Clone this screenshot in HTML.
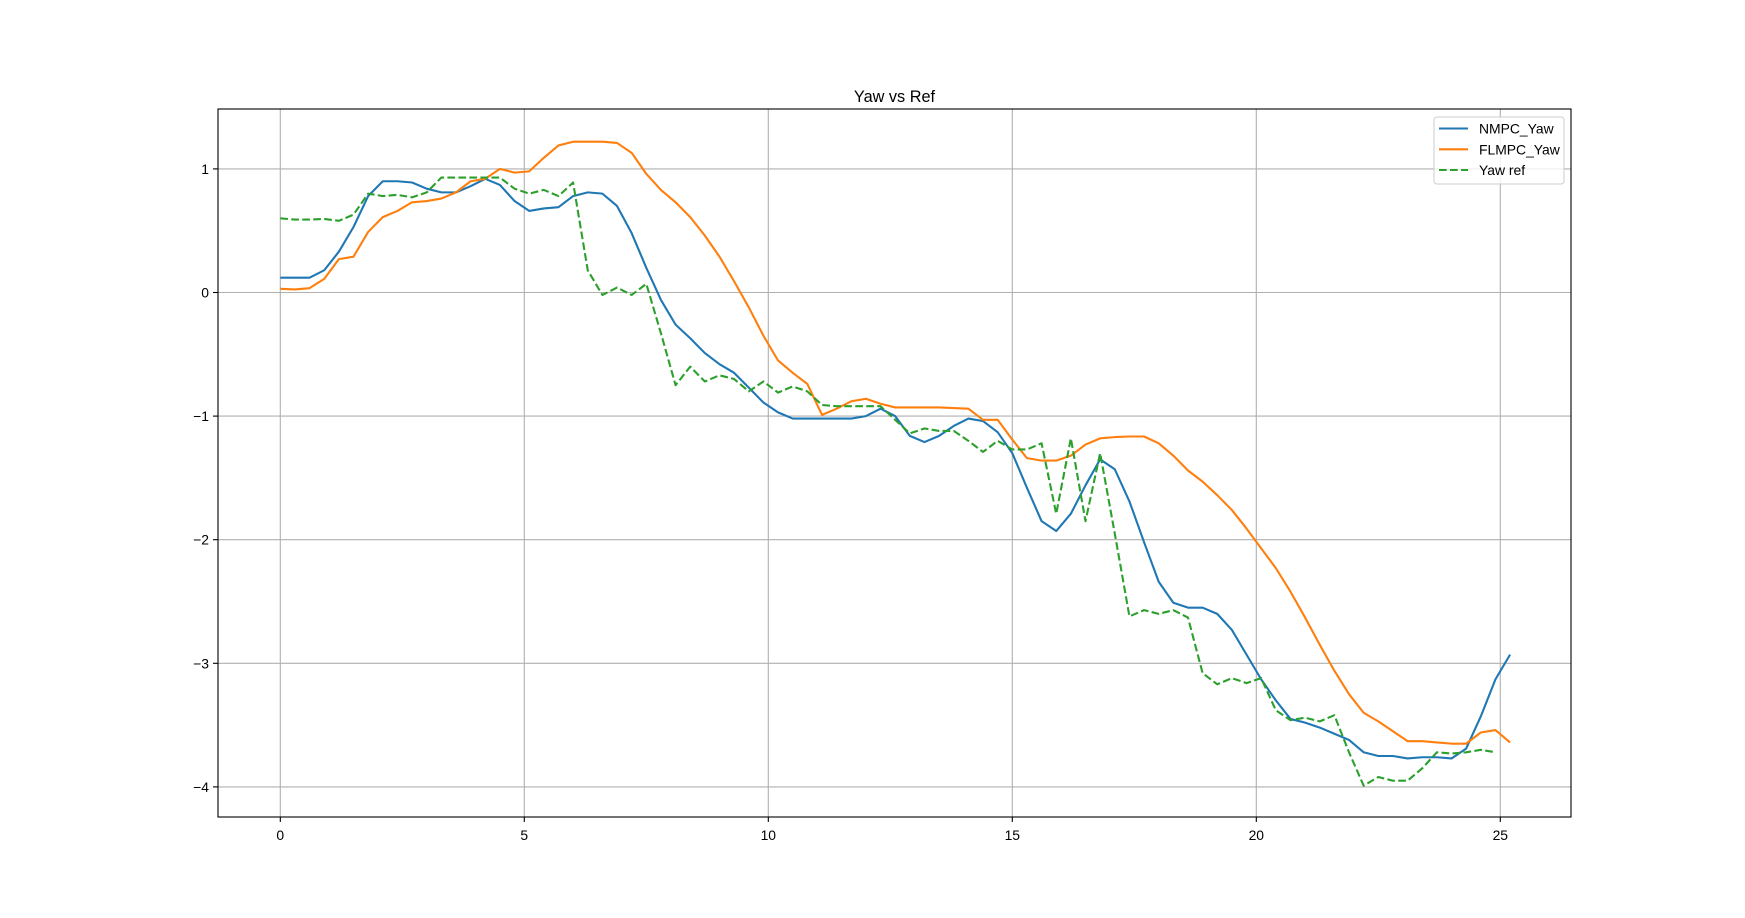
<!DOCTYPE html>
<html><head><meta charset="utf-8"><style>
html,body{margin:0;padding:0;background:#fff;}
svg{display:block;font-family:"Liberation Sans","DejaVu Sans",sans-serif;}
</style></head><body>
<svg id="chart" width="1745" height="918" viewBox="0 0 1745 918" xmlns="http://www.w3.org/2000/svg">
<rect x="0" y="0" width="1745" height="918" fill="#fff"/>
<text x="894.5" y="102" font-size="16.3" text-anchor="middle">Yaw vs Ref</text>
<g id="grid"></g>
<g id="ticks"></g>
<g id="series"></g>
<rect x="218" y="109" width="1353" height="708" fill="none" stroke="#000" stroke-width="1.1"/>
<g id="legend">
<rect x="1434" y="117" width="130" height="67" rx="3" fill="#fff" fill-opacity="0.8" stroke="#ccc" stroke-width="1"/>
<line x1="1439" y1="128.5" x2="1468" y2="128.5" stroke="#1f77b4" stroke-width="2.1"/>
<text x="1479" y="133.5" font-size="13.9">NMPC_Yaw</text>
<line x1="1439" y1="149.3" x2="1468" y2="149.3" stroke="#ff7f0e" stroke-width="2.1"/>
<text x="1479" y="154.3" font-size="13.9">FLMPC_Yaw</text>
<line x1="1439" y1="170" x2="1468" y2="170" stroke="#2ca02c" stroke-width="2.1" stroke-dasharray="7.7,3.3"/>
<text x="1479" y="175" font-size="13.9">Yaw ref</text>
</g>
</svg>
<script>
const xTicks = [0, 5, 10, 15, 20, 25];
const yTicks = [1, 0, -1, -2, -3, -4];
const yTickLabels = ["1", "0", "\u22121", "\u22122", "\u22123", "\u22124"];
const dt = 0.3;
const nmpcYaw = [0.12,0.12,0.12,0.18,0.33,0.53,0.78,0.9,0.9,0.89,0.84,0.81,0.81,0.86,0.92,0.87,0.74,0.66,0.68,0.69,0.78,0.81,0.80,0.70,0.48,0.2,-0.06,-0.26,-0.37,-0.49,-0.58,-0.65,-0.77,-0.89,-0.97,-1.02,-1.02,-1.02,-1.02,-1.02,-1.0,-0.94,-1.0,-1.16,-1.21,-1.16,-1.08,-1.02,-1.04,-1.13,-1.3,-1.58,-1.85,-1.93,-1.79,-1.56,-1.35,-1.43,-1.69,-2.02,-2.34,-2.51,-2.55,-2.55,-2.6,-2.73,-2.93,-3.13,-3.3,-3.45,-3.48,-3.52,-3.57,-3.62,-3.72,-3.75,-3.75,-3.77,-3.76,-3.76,-3.77,-3.69,-3.43,-3.13,-2.93];
const flmpcYaw = [0.03,0.025,0.035,0.11,0.27,0.29,0.49,0.61,0.66,0.73,0.74,0.76,0.81,0.9,0.92,1.0,0.97,0.98,1.09,1.19,1.22,1.22,1.22,1.21,1.13,0.96,0.83,0.73,0.61,0.46,0.29,0.09,-0.12,-0.35,-0.55,-0.65,-0.74,-0.99,-0.94,-0.88,-0.86,-0.9,-0.93,-0.93,-0.93,-0.93,-0.935,-0.94,-1.03,-1.03,-1.19,-1.34,-1.36,-1.36,-1.32,-1.23,-1.18,-1.17,-1.165,-1.165,-1.22,-1.32,-1.44,-1.53,-1.64,-1.76,-1.91,-2.07,-2.23,-2.42,-2.63,-2.85,-3.06,-3.25,-3.4,-3.47,-3.55,-3.63,-3.63,-3.64,-3.65,-3.65,-3.56,-3.54,-3.64];
const yawRef = [0.6,0.59,0.59,0.595,0.58,0.63,0.8,0.78,0.79,0.77,0.81,0.93,0.93,0.93,0.93,0.93,0.84,0.8,0.83,0.78,0.89,0.18,-0.02,0.04,-0.02,0.07,-0.33,-0.75,-0.6,-0.72,-0.67,-0.7,-0.8,-0.72,-0.81,-0.76,-0.8,-0.91,-0.92,-0.92,-0.92,-0.92,-1.03,-1.14,-1.1,-1.12,-1.12,-1.2,-1.29,-1.2,-1.27,-1.27,-1.22,-1.79,-1.18,-1.85,-1.3,-1.95,-2.62,-2.57,-2.6,-2.57,-2.63,-3.08,-3.17,-3.12,-3.16,-3.12,-3.38,-3.46,-3.44,-3.47,-3.42,-3.72,-3.99,-3.92,-3.95,-3.95,-3.85,-3.72,-3.73,-3.72,-3.7,-3.72];

const NS = "http://www.w3.org/2000/svg";
function X(t){ return 280.3 + t * 48.8; }
function Y(v){ return 292.5 - v * 123.6; }

const grid = document.getElementById('grid');
const ticks = document.getElementById('ticks');
function mk(tag, attrs, parent){
  const e = document.createElementNS(NS, tag);
  for (const k in attrs) e.setAttribute(k, attrs[k]);
  parent.appendChild(e);
  return e;
}
xTicks.forEach(t => {
  const x = X(t);
  const g = mk('line', {x1:x, y1:109, x2:x, y2:817, stroke:'#b0b0b0', 'stroke-width':1.1}, grid);
  
  
  const tk = mk('line', {x1:x, y1:817, x2:x, y2:822, stroke:'#000', 'stroke-width':1.1}, ticks);
  
  
  const lb = mk('text', {x:x, y:840, 'font-size':13.9, 'text-anchor':'middle'}, ticks);
  
  
  lb.textContent = String(t);
});
yTicks.forEach((v, i) => {
  const y = Y(v);
  const g = mk('line', {x1:218, y1:y, x2:1571, y2:y, stroke:'#b0b0b0', 'stroke-width':1.1}, grid);
  
  
  const tk = mk('line', {x1:213, y1:y, x2:218, y2:y, stroke:'#000', 'stroke-width':1.1}, ticks);
  
  
  const lb = mk('text', {x:209, y:y + 5, 'font-size':13.9, 'text-anchor':'end'}, ticks);
  
  
  lb.textContent = yTickLabels[i];
});
const series = document.getElementById('series');
function drawLine(vals, color, dash, name){
  const pts = vals.map((v, i) => X(i * dt).toFixed(2) + ',' + Y(v).toFixed(2)).join(' ');
  const attrs = {points:pts, fill:'none', stroke:color, 'stroke-width':2.1, 'stroke-linejoin':'round'};
  if (dash) attrs['stroke-dasharray'] = dash;
  const p = mk('polyline', attrs, series);
  
  
}
drawLine(nmpcYaw, '#1f77b4', null, 'nmpc-yaw-line');
drawLine(flmpcYaw, '#ff7f0e', null, 'flmpc-yaw-line');
drawLine(yawRef, '#2ca02c', '7.7,3.3', 'yaw-ref-line');
</script>
</body></html>
